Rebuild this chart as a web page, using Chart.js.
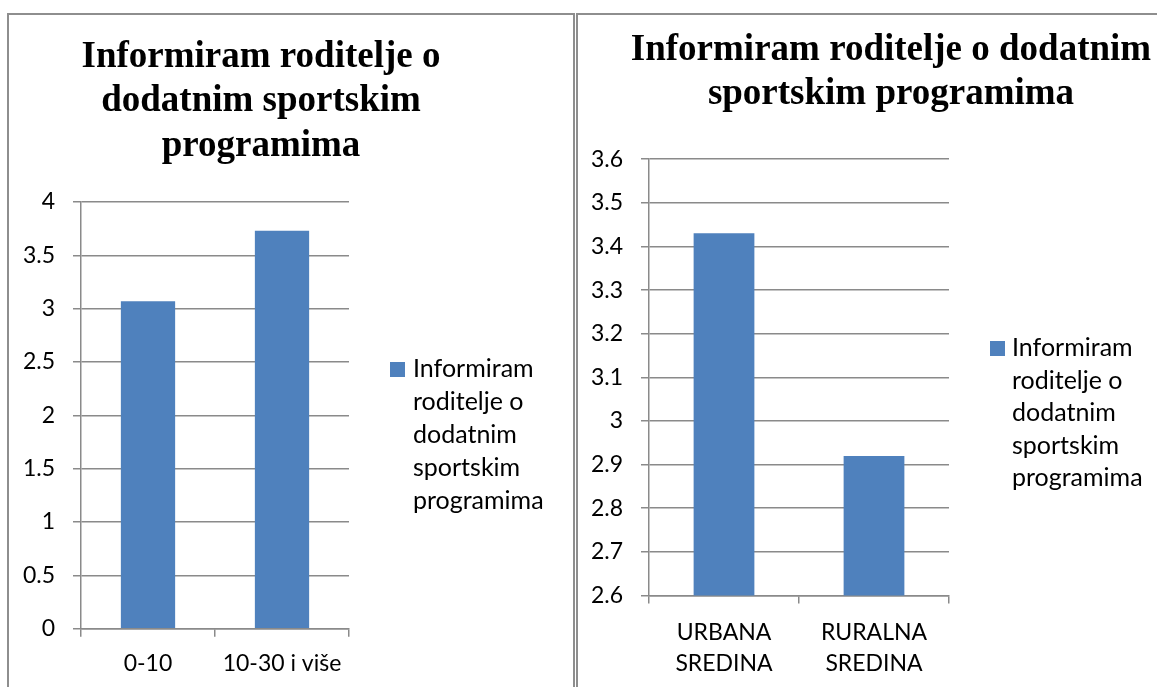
<!DOCTYPE html>
<html><head><meta charset="utf-8">
<script src="https://cdn.jsdelivr.net/npm/chart.js@4/dist/chart.umd.min.js"></script>
<style>
html,body{margin:0;padding:0;background:#fff;width:1157px;height:687px;overflow:hidden;}
body{position:relative;}
.frame{position:absolute;border-color:#8e8e8e;border-style:solid;box-sizing:border-box;}
.wrap{position:absolute;top:14px;height:673px;}
canvas{display:block;}
</style></head>
<body>
<div class="frame" style="left:7px;top:13px;width:568px;height:700px;border-width:2px 2px 0 2px;"></div>
<div class="frame" style="left:576px;top:13px;width:700px;height:700px;border-width:2px 0 0 2px;"></div>
<div class="wrap" style="left:8px;width:562px;"><canvas id="c1" width="562" height="673"></canvas></div>
<div class="wrap" style="left:580px;width:622px;"><canvas id="c2" width="622" height="673"></canvas></div>
<script>
// ---- data ----
const titleLines1 = ['Informiram roditelje o', 'dodatnim sportskim', 'programima'];
const titleLines2 = ['Informiram roditelje o dodatnim', 'sportskim programima'];
const seriesLabelLines = ['Informiram', 'roditelje o', 'dodatnim', 'sportskim', 'programima'];
const categories1 = ['0-10', '10-30 i više'];
const values1 = [3.07, 3.73];
const yTicks1 = [0, 0.5, 1, 1.5, 2, 2.5, 3, 3.5, 4];
const yTickLabels1 = ['0', '0.5', '1', '1.5', '2', '2.5', '3', '3.5', '4'];
const categories2 = [['URBANA', 'SREDINA'], ['RURALNA', 'SREDINA']];
const values2 = [3.43, 2.92];
const yTicks2 = [2.6, 2.7, 2.8, 2.9, 3.0, 3.1, 3.2, 3.3, 3.4, 3.5, 3.6];
const yTickLabels2 = ['2.6', '2.7', '2.8', '2.9', '3', '3.1', '3.2', '3.3', '3.4', '3.5', '3.6'];

// ---- style ----
const BAR = '#4F81BD';
const GRID = '#8a8a8a';
const SANS = 'Lato';
Chart.defaults.font.family = SANS;
Chart.defaults.color = '#000';

const sideLegend = {
  id: 'sideLegend',
  afterDraw(chart, args, o) {
    const ctx = chart.ctx;
    ctx.save();
    ctx.fillStyle = chart.data.datasets[0].backgroundColor;
    ctx.fillRect(o.boxX, o.boxY, o.box, o.box);
    ctx.fillStyle = '#000';
    ctx.font = o.font;
    ctx.textAlign = 'left';
    ctx.textBaseline = 'middle';
    o.lines.forEach((t, i) => ctx.fillText(t, o.textX, o.textY + i * o.gap));
    ctx.restore();
  }
};

function makeChart(id, cfg) {
  return new Chart(document.getElementById(id), {
    type: 'bar',
    data: {
      labels: cfg.categories,
      datasets: [{
        label: seriesLabelLines.join(' '),
        data: cfg.values,
        backgroundColor: BAR,
        borderWidth: 0,
        barPercentage: 0.405,
        categoryPercentage: 1
      }]
    },
    plugins: [sideLegend],
    options: {
      responsive: false,
      animation: false,
      devicePixelRatio: 1,
      layout: { padding: { left: 0, right: cfg.padRight, top: 0, bottom: 0 } },
      plugins: {
        legend: { display: false },
        tooltip: { enabled: false },
        title: {
          display: true,
          text: cfg.title,
          color: '#000',
          font: { family: 'Liberation Serif', weight: 'bold', size: 37, lineHeight: 1.2 },
          padding: cfg.titlePad
        },
        sideLegend: Object.assign({ lines: seriesLabelLines, box: 15, font: '25px ' + SANS }, cfg.legend)
      },
      scales: {
        x: {
          grid: { drawOnChartArea: false, drawTicks: true, tickLength: 8, color: GRID, lineWidth: 1.5, offset: true },
          border: { display: true, color: GRID, width: 1.5 },
          ticks: { font: { size: 23, lineHeight: cfg.xLineHeight }, padding: 13, maxRotation: 0, autoSkip: false, color: '#000' },
          afterFit(s) { s.height = cfg.xHeight; }
        },
        y: {
          min: cfg.yTicks[0],
          max: cfg.yTicks[cfg.yTicks.length - 1],
          afterBuildTicks(s) { s.ticks = cfg.yTicks.map(v => ({ value: v })); },
          grid: { drawTicks: true, tickLength: 8, color: GRID, lineWidth: 1.5 },
          border: { display: true, color: GRID, width: 1.5 },
          ticks: {
            font: { size: 23 },
            padding: 18,
            color: '#000',
            callback: (v, i) => cfg.yLabels[i]
          },
          afterFit(s) { s.width = cfg.yWidth; }
        },
        legendSpace: {
          type: 'linear',
          position: 'right',
          display: true,
          grid: { display: false, drawTicks: false },
          border: { display: false },
          ticks: { display: false },
          afterFit(s) { s.width = cfg.legendSpace; }
        }
      }
    }
  });
}

makeChart('c1', {
  categories: categories1, values: values1, yTicks: yTicks1, yLabels: yTickLabels1,
  title: titleLines1, titlePad: { top: 21, bottom: 33.7 },
  padRight: 56, legendSpace: 165, yWidth: 73, xHeight: 58.3, xLineHeight: 1.2,
  legend: { boxX: 382, boxY: 348, textX: 405, textY: 355, gap: 33 }
});
makeChart('c2', {
  categories: categories2, values: values2, yTicks: yTicks2, yLabels: yTickLabels2,
  title: titleLines2, titlePad: { top: 14, bottom: 42.4 },
  padRight: 0, legendSpace: 253, yWidth: 69, xHeight: 91.5, xLineHeight: 1.36,
  legend: { boxX: 410, boxY: 327, textX: 432, textY: 334, gap: 32.5 }
});
</script>
</body></html>
